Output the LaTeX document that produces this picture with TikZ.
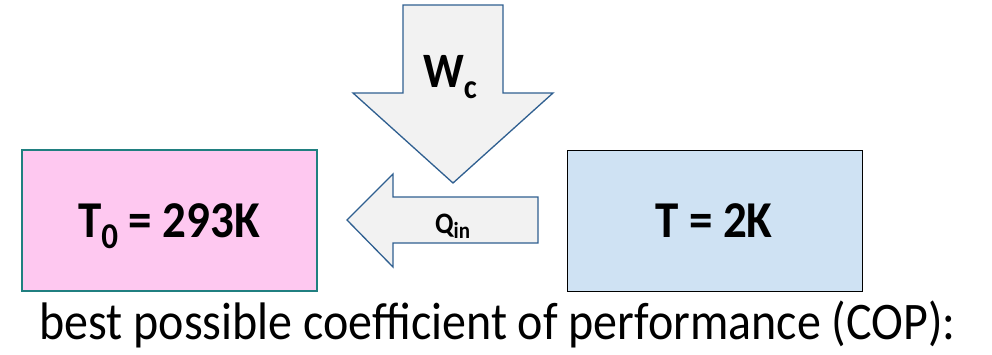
\documentclass[tikz,border=0pt]{standalone}
\usepackage{fontspec}
\setmainfont{Carlito}
\definecolor{hotfill}{HTML}{FEC8F0}
\definecolor{hotline}{HTML}{207F80}
\definecolor{coldfill}{HTML}{CFE2F3}
\definecolor{arrowfill}{HTML}{F2F2F2}
\definecolor{arrowline}{HTML}{2F5F90}
% subscript: size, drop, text
\newcommand\lowsub[3]{\raisebox{-#2}{\fontsize{#1}{#1}\selectfont #3}}
\newcommand\tall[1]{\scalebox{1}[1.1]{#1}}
\tikzset{
  reservoir/.style={draw, line width=1.3pt, minimum width=295pt, minimum height=141pt, inner sep=0pt},
  bigbold/.style={font=\fontsize{47}{50}\selectfont\bfseries, inner sep=0pt, anchor=base west},
  blockarrow/.style={draw=arrowline, fill=arrowfill, line width=1.3pt, line join=miter},
}
\begin{document}
\begin{tikzpicture}[x=1pt,y=-1pt]
\useasboundingbox (0,0) rectangle (992,354);
% hot and cold reservoirs
\node[reservoir, fill=hotfill, draw=hotline] (hot) at (169.5,220.5) {};
\node[reservoir, fill=coldfill, draw=black] (cold) at (715,221) {};
\node[bigbold] (hotlabel) at (78,237) {\tall{T\lowsub{33pt}{10pt}{0} = 293K}};
\node[bigbold] (coldlabel) at (655,237) {\tall{T = 2K}};
% work input arrow
\draw[blockarrow] (403,5) -- (503,5) -- (503,93) -- (553,93) -- (453,183) -- (353,93) -- (403,93) -- cycle;
\node[bigbold, font=\fontsize{45}{48}\selectfont\bfseries] (wc) at (423,87) {\tall{W\lowsub{31pt}{10pt}{c}}};
% heat flow arrow
\draw[blockarrow] (538,197) -- (538,243) -- (393,243) -- (393,267) -- (347,220) -- (393,174) -- (393,197) -- cycle;
\node[bigbold, font=\fontsize{27}{30}\selectfont\bfseries] (qin) at (435,233) {\tall{Q\lowsub{21pt}{5pt}{in}}};
% caption
\node[font=\fontsize{48}{52}\selectfont, anchor=base, inner sep=0pt] (cap) at (497.5,339) {\tall{best possible coefficient of performance (COP):}};
\end{tikzpicture}
\end{document}
